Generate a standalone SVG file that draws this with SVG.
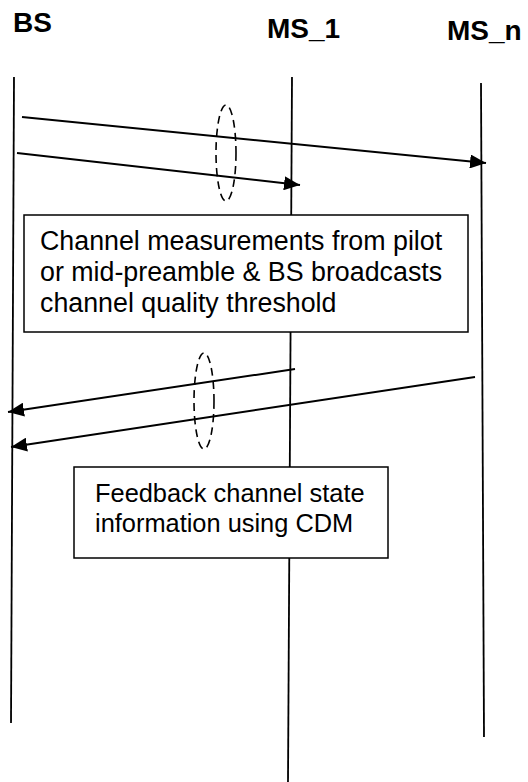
<svg xmlns="http://www.w3.org/2000/svg" width="528" height="782" viewBox="0 0 528 782">
<defs>
<style>
.life{stroke:#000;stroke-width:1.8;fill:none}
.msg{stroke:#000;stroke-width:2;fill:none}
.grp{stroke:#000;stroke-width:1.6;fill:none;stroke-dasharray:8 5}
.box{fill:#fff;stroke:#000;stroke-width:1.5}
.lbl{font-family:"Liberation Sans",Arial,sans-serif;font-weight:bold;font-size:28px;fill:#000}
.txt{font-family:"Liberation Sans",Arial,sans-serif;font-size:26.8px;fill:#000}
.txt2{font-family:"Liberation Sans",Arial,sans-serif;font-size:25.4px;fill:#000}
</style>
<marker id="ah" viewBox="0 0 16 14" refX="16" refY="7" markerWidth="16" markerHeight="14" markerUnits="userSpaceOnUse" orient="auto">
<path d="M0,0 L16,7 L0,14 Z" fill="#000"/>
</marker>
</defs>
<rect width="528" height="782" fill="#fff"/>
<g id="BS">
<text class="lbl" x="13" y="32">BS</text>
<line class="life" x1="14" y1="77" x2="11" y2="723"/>
</g>
<g id="MS_1">
<text class="lbl" x="267" y="38">MS_1</text>
<line class="life" x1="292" y1="77" x2="288" y2="782"/>
</g>
<g id="MS_n">
<text class="lbl" x="447" y="40">MS_n</text>
<line class="life" x1="481" y1="83" x2="484" y2="737"/>
</g>
<g id="connectors">
<line class="msg" x1="22" y1="117" x2="486" y2="163" marker-end="url(#ah)"/>
<line class="msg" x1="17" y1="153" x2="300" y2="185" marker-end="url(#ah)"/>
<ellipse class="grp" cx="226" cy="153" rx="10" ry="48"/>
<line class="msg" x1="295" y1="369" x2="8" y2="412" marker-end="url(#ah)"/>
<line class="msg" x1="475" y1="377" x2="11" y2="447" marker-end="url(#ah)"/>
<ellipse class="grp" cx="204" cy="401" rx="10" ry="48"/>
</g>
<g id="box1">
<rect class="box" x="24" y="215" width="444" height="117"/>
<text class="txt" x="40" y="250">Channel measurements from pilot</text>
<text class="txt" x="40" y="281">or mid-preamble &amp; BS broadcasts</text>
<text class="txt" x="40" y="312">channel quality threshold</text>
</g>
<g id="box2">
<rect class="box" x="74" y="467" width="314" height="91"/>
<text class="txt2" x="95" y="502">Feedback channel state</text>
<text class="txt2" x="95" y="532">information using CDM</text>
</g>
</svg>
